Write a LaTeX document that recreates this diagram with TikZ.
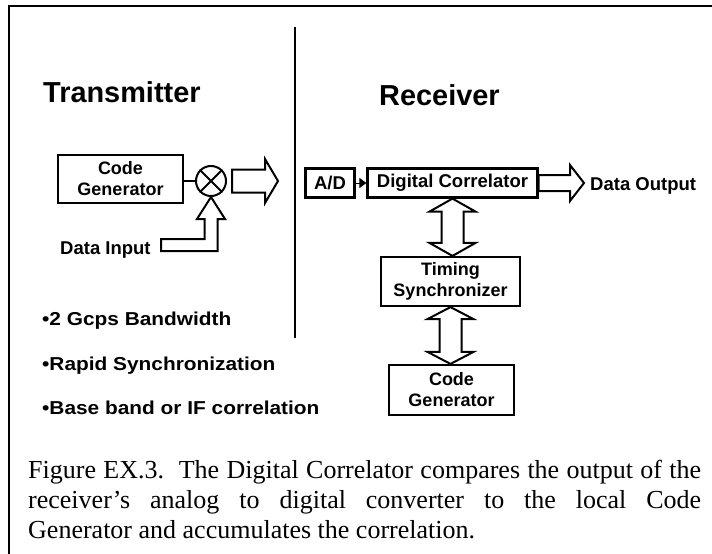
\documentclass[tikz,border=0pt]{standalone}
\usepackage{fontspec}
\setmainfont{Liberation Serif}
\setsansfont{Liberation Sans}
\newfontfamily\widesans{Liberation Sans}[FakeStretch=1.115]
\usetikzlibrary{calc,arrows.meta}

\newcommand\blkfont{\sffamily\bfseries\fontsize{18}{21}\selectfont}
\newcommand\lblfont{\sffamily\bfseries\fontsize{18.5}{22}\selectfont}
\newcommand\bulfont{\widesans\bfseries\fontsize{18.7}{22}\selectfont}
\newcommand\ttlfont{\sffamily\bfseries\fontsize{28.9}{32}\selectfont}
\newcommand\capfont{\rmfamily\fontsize{26}{30}\selectfont}

\tikzset{
  frameline/.style={line width=2.4pt},
  divline/.style={line width=2pt},
  blk/.style={draw, rectangle, line width=2.2pt, inner sep=0pt, align=center, font=\blkfont},
  hollow/.style={draw, line width=2pt, fill=white, line join=miter},
  lbl/.style={inner sep=0pt, anchor=base west, font=\lblfont},
  bul/.style={inner sep=0pt, anchor=base west, font=\bulfont},
  ttl/.style={inner sep=0pt, anchor=base west, font=\ttlfont},
  capl/.style={inner sep=0pt, anchor=base west, font=\capfont},
}

% horizontal hollow arrow: #1 tail, #2 tip, #3 half shaft, #4 half head, #5 head length
\newcommand\hollowright[5]{%
  \draw[hollow] let \p1=(#1), \p2=(#2) in
    (\x1,\y1+#3) -- (\x2-#5,\y1+#3) -- (\x2-#5,\y1+#4) -- (\x2,\y1)
    -- (\x2-#5,\y1-#4) -- (\x2-#5,\y1-#3) -- (\x1,\y1-#3) -- cycle;}

% vertical double-headed hollow arrow between two tips (#1 upper, #2 lower), #3 head length
\newcommand\hollowvdouble[3]{%
  \draw[hollow] let \p1=(#1), \p2=(#2) in
    (\x1,\y1) -- (\x1+23pt,\y1-#3) -- (\x1+11pt,\y1-#3) -- (\x1+11pt,\y2+#3)
    -- (\x1+23pt,\y2+#3) -- (\x1,\y2) -- (\x1-23pt,\y2+#3) -- (\x1-11pt,\y2+#3)
    -- (\x1-11pt,\y1-#3) -- (\x1-23pt,\y1-#3) -- cycle;}

\begin{document}
\begin{tikzpicture}[x=1pt,y=-1pt]
\useasboundingbox (0,0) rectangle (712,554);

% frame and divider
\draw[frameline] (9,554) -- (9,6) -- (712,6);
\draw[divline] (295,27) -- (295,338);

% headings
\node[ttl] (ttx) at (43,102) {Transmitter};
\node[ttl] (trx) at (379,105) {Receiver};

% transmitter
\node[blk, minimum width=125, minimum height=48] (tcg) at (120.5,179) {Code\\Generator};
\node[draw, circle, line width=2pt, minimum size=30, inner sep=0pt] (mix) at (211,181) {};
\draw[line width=1.8pt] (mix.north west) -- (mix.south east) (mix.north east) -- (mix.south west);
\draw[line width=1.6pt] (tcg.east |- mix.west) -- (mix.west);

\coordinate (txs) at ($(mix.east)+(5,0)$);
\coordinate (txt) at (278,181);
\hollowright{txs}{txt}{11.5pt}{22pt}{13pt}

\node[lbl] (din) at (60,254) {Data Input};
\coordinate (dins) at (161,245);
\draw[hollow] let \p1=(mix.south), \p2=(dins) in
  (\x2,\y2+6pt) -- (\x1-6.5pt,\y2+6pt) -- (\x1-6.5pt,\y1-22pt) -- (\x1-14pt,\y1-22pt)
  -- (\x1,\y1) -- (\x1+14pt,\y1-22pt) -- (\x1+6.5pt,\y1-22pt) -- (\x1+6.5pt,\y2-6pt)
  -- (\x2,\y2-6pt) -- cycle;

% receiver
\node[blk, font=\lblfont, minimum width=49, minimum height=29] (ad) at (330,183) {A/D};
\node[blk, font=\lblfont, minimum width=170, minimum height=29] (dc) at (452.5,183) {Digital Correlator};
\draw[line width=1pt, -{Triangle[length=7pt,width=10pt]}] (ad.east) -- (dc.west);

\coordinate (dot) at (584,183);
\hollowright{dc.east}{dot}{8pt}{18pt}{14pt}
\node[lbl] (dout) at (590,190) {Data Output};

\node[blk, minimum width=139, minimum height=49] (ts) at (450.5,281.5) {Timing\\Synchronizer};
\node[blk, minimum width=125, minimum height=50] (rcg) at (451.5,390) {Code\\Generator};
\hollowvdouble{dc.south}{ts.north}{13pt}
\hollowvdouble{ts.south}{rcg.north}{12pt}

% features
\node[bul] (b1) at (42,325) {•2 Gcps Bandwidth};
\node[bul] (b2) at (42,370) {•Rapid Synchronization};
\node[bul] (b3) at (42,414) {•Base band or IF correlation};

% caption
\node[capl] (c1) at (28,478) {\makebox[673pt][s]{Figure EX.3.\ \ The Digital Correlator compares the output of the}};
\node[capl] (c2) at (28,508) {\makebox[673pt][s]{receiver’s analog to digital converter to the local Code}};
\node[capl] (c3) at (28,538) {Generator and accumulates the correlation.};
\end{tikzpicture}
\end{document}
